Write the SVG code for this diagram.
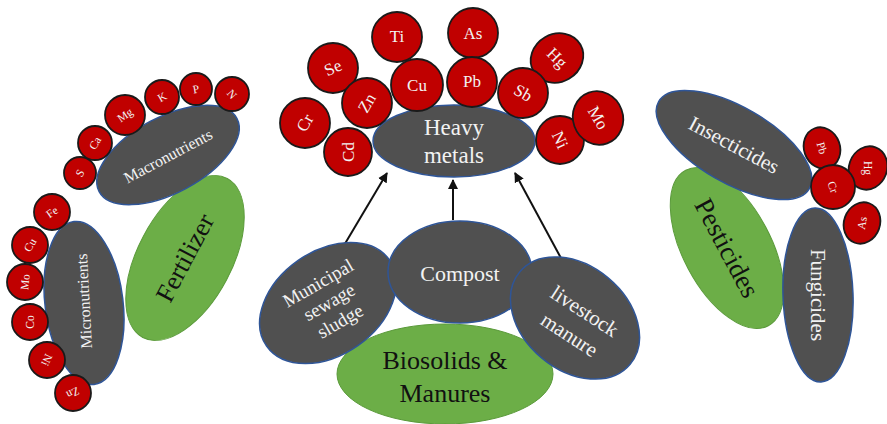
<svg xmlns="http://www.w3.org/2000/svg" width="887" height="424" viewBox="0 0 887 424">
<defs>
<style>
.g{fill:#505050;stroke:#2f5597;stroke-width:1.5}
.gr{fill:#6cae47;stroke:#5a9a3a;stroke-width:1}
.r{fill:#c00000;stroke:#1a1a1a;stroke-width:1.8}
text{font-family:"Liberation Serif","DejaVu Serif",serif;text-anchor:middle;dominant-baseline:central}
.w{fill:#f2f2f2}
.b{fill:#111}
.s{font-size:11.5px;fill:#f2f2f2}
.m{font-size:17px;fill:#f2f2f2}
.c{stroke:#111;stroke-width:2;fill:none;marker-end:url(#ah)}
</style>
<marker id="ah" viewBox="0 0 10 10" refX="9" refY="5" markerWidth="5" markerHeight="5" orient="auto">
<path d="M0,0 L10,5 L0,10 z" fill="#111"/>
</marker>
</defs>
<rect width="887" height="424" fill="#fff"/>

<g id="connectors">
<line class="c" x1="343" y1="247" x2="387" y2="173"/>
<line class="c" x1="453" y1="220" x2="453" y2="180"/>
<line class="c" x1="562" y1="260" x2="515" y2="173"/>
</g>

<!-- Left: Fertilizer -->
<g id="fertilizer">
<ellipse class="gr" cx="185" cy="258" rx="90" ry="47" transform="rotate(-62 185 258)"/>
<text class="b" x="185" y="258" font-size="26" transform="rotate(-62 185 258)">Fertilizer</text>
</g>
<g id="macronutrients">
<ellipse class="g" cx="168" cy="155" rx="78" ry="38" transform="rotate(-28 168 155)"/>
<text class="w" x="168" y="156" font-size="16" transform="rotate(-28 168 156)">Macronutrients</text>
</g>
<g id="micronutrients">
<ellipse class="g" cx="84" cy="303" rx="39" ry="82" transform="rotate(-7 84 303)"/>
<text class="w" x="84" y="301" font-size="16" transform="rotate(-93 84 301)">Micronutrients</text>
</g>
<g id="el-S"><circle class="r" cx="80" cy="173" r="16"/><text class="s" x="80" y="173" transform="rotate(-60 80 173)">S</text></g>
<g id="el-Ca"><circle class="r" cx="95" cy="143" r="17"/><text class="s" x="95" y="143" transform="rotate(-60 95 143)">Ca</text></g>
<g id="el-Mg"><circle class="r" cx="125" cy="115" r="20"/><text class="s" x="125" y="115" transform="rotate(-35 125 115)">Mg</text></g>
<g id="el-K"><circle class="r" cx="162" cy="97" r="17"/><text class="s" x="162" y="97" transform="rotate(-30 162 97)">K</text></g>
<g id="el-P"><circle class="r" cx="196" cy="89" r="16"/><text class="s" x="196" y="89" transform="rotate(-10 196 89)">P</text></g>
<g id="el-N"><circle class="r" cx="232" cy="94" r="17"/><text class="s" x="232" y="94" transform="rotate(50 232 94)">N</text></g>
<g id="el-Fe"><circle class="r" cx="52" cy="212" r="18"/><text class="s" x="52" y="212" transform="rotate(-35 52 212)">Fe</text></g>
<g id="el-Cu1"><circle class="r" cx="30" cy="245" r="18"/><text class="s" x="30" y="245" transform="rotate(-60 30 245)">Cu</text></g>
<g id="el-Mo1"><circle class="r" cx="25" cy="282" r="18"/><text class="s" x="25" y="282" transform="rotate(-85 25 282)">Mo</text></g>
<g id="el-Co"><circle class="r" cx="30" cy="322" r="18"/><text class="s" x="30" y="322" transform="rotate(-90 30 322)">Co</text></g>
<g id="el-Ni1"><circle class="r" cx="47" cy="360" r="18"/><text class="s" x="47" y="360" transform="rotate(115 47 360)">Ni</text></g>
<g id="el-Zn1"><circle class="r" cx="73" cy="393" r="18"/><text class="s" x="73" y="393" transform="rotate(155 73 393)">Zn</text></g>

<!-- Center top -->
<g id="heavy-metals">
<ellipse class="g" cx="454" cy="141" rx="81" ry="36"/>
<text class="w" x="454" y="127" font-size="23">Heavy</text>
<text class="w" x="454" y="155" font-size="23">metals</text>
</g>
<g id="hm-Ti"><circle class="r" cx="397" cy="37" r="25"/><text class="m" x="397" y="36">Ti</text></g>
<g id="hm-As"><circle class="r" cx="473" cy="33" r="25"/><text class="m" x="473" y="33">As</text></g>
<g id="hm-Se"><circle class="r" cx="333" cy="68" r="25"/><text class="m" x="333" y="68" transform="rotate(-25 333 68)">Se</text></g>
<g id="hm-Cu"><circle class="r" cx="417" cy="85" r="26"/><text class="m" x="417" y="85">Cu</text></g>
<g id="hm-Pb"><circle class="r" cx="472" cy="82" r="25"/><text class="m" x="472" y="81">Pb</text></g>
<g id="hm-Hg"><ellipse class="r" cx="557" cy="58" rx="27" ry="24" transform="rotate(-30 557 58)"/><text class="m" x="557" y="58" transform="rotate(45 557 58)">Hg</text></g>
<g id="hm-Sb"><circle class="r" cx="523" cy="93" r="25"/><text class="m" x="523" y="93" transform="rotate(30 523 93)">Sb</text></g>
<g id="hm-Zn"><circle class="r" cx="367" cy="103" r="25"/><text class="m" x="367" y="103" transform="rotate(-60 367 103)">Zn</text></g>
<g id="hm-Cr"><circle class="r" cx="305" cy="123" r="25"/><text class="m" x="305" y="123" transform="rotate(-60 305 123)">Cr</text></g>
<g id="hm-Cd"><circle class="r" cx="348" cy="152" r="24"/><text class="m" x="348" y="152" transform="rotate(-90 348 152)">Cd</text></g>
<g id="hm-Ni"><circle class="r" cx="560" cy="140" r="24"/><text class="m" x="560" y="140" transform="rotate(65 560 140)">Ni</text></g>
<g id="hm-Mo"><ellipse class="r" cx="598" cy="118" rx="25" ry="27" transform="rotate(-20 598 118)"/><text class="m" x="598" y="118" transform="rotate(60 598 118)">Mo</text></g>

<!-- Center bottom -->
<g id="biosolids">
<ellipse class="gr" cx="445" cy="374" rx="108" ry="50"/>
<text class="b" x="445" y="360" font-size="26">Biosolids &amp;</text>
<text class="b" x="445" y="393" font-size="26">Manures</text>
</g>
<g id="municipal">
<ellipse class="g" cx="328" cy="303" rx="75" ry="52" transform="rotate(-35 328 303)"/>
<g transform="translate(329 302) rotate(-30)">
<text class="w" x="0" y="-22" font-size="19">Municipal</text>
<text class="w" x="0" y="0" font-size="19">sewage</text>
<text class="w" x="0" y="22" font-size="19">sludge</text>
</g>
</g>
<g id="compost">
<ellipse class="g" cx="460" cy="272" rx="72" ry="51"/>
<text class="w" x="460" y="273" font-size="22">Compost</text>
</g>
<g id="livestock">
<ellipse class="g" cx="575" cy="318" rx="72" ry="52" transform="rotate(40 575 318)"/>
<g transform="translate(577 323) rotate(33)">
<text class="w" x="0" y="-14" font-size="21">livestock</text>
<text class="w" x="0" y="14" font-size="21">manure</text>
</g>
</g>

<!-- Right -->
<g id="pesticides">
<ellipse class="gr" cx="727" cy="248" rx="88" ry="44" transform="rotate(62 727 248)"/>
<text class="b" x="727" y="248" font-size="27" transform="rotate(62 727 248)">Pesticides</text>
</g>
<g id="insecticides">
<ellipse class="g" cx="734" cy="145" rx="87" ry="38" transform="rotate(30 734 145)"/>
<text class="w" x="734" y="145" font-size="21" transform="rotate(28 734 145)">Insecticides</text>
</g>
<g id="fungicides">
<ellipse class="g" cx="818" cy="295" rx="35" ry="87" transform="rotate(-2 818 295)"/>
<text class="w" x="818" y="295" font-size="21" transform="rotate(90 818 295)">Fungicides</text>
</g>
<g id="p-Pb"><ellipse class="r" cx="822" cy="148" rx="18" ry="21" transform="rotate(-20 822 148)"/><text class="s" x="822" y="148" transform="rotate(75 822 148)">Pb</text></g>
<g id="p-Hg"><ellipse class="r" cx="868" cy="168" rx="19" ry="22" transform="rotate(20 868 168)"/><text class="s" x="868" y="168" transform="rotate(90 868 168)">Hg</text></g>
<g id="p-Cr"><circle class="r" cx="833" cy="187" r="22"/><text class="s" x="833" y="187" transform="rotate(70 833 187)">Cr</text></g>
<g id="p-As"><ellipse class="r" cx="862" cy="223" rx="18" ry="21" transform="rotate(20 862 223)"/><text class="s" x="862" y="223" transform="rotate(-80 862 223)">As</text></g>
</svg>
